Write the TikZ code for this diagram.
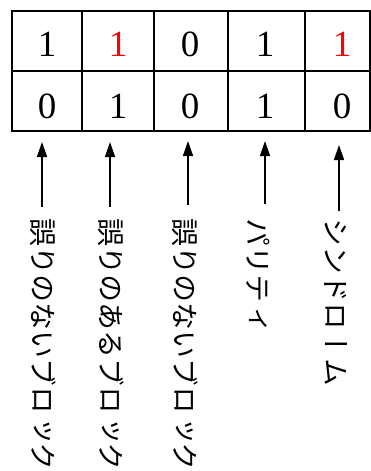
\documentclass[tikz,border=0pt]{standalone}
\usepackage{fontspec}
\newfontfamily\jpv[Vertical=RotatedGlyphs]{Noto Sans CJK JP}
\newfontfamily\digitfont{Liberation Serif}
\usetikzlibrary{arrows.meta}
\begin{document}
\begin{tikzpicture}[x=1pt,y=-1pt,
  grid/.style={line width=1.6pt},
  digit/.style={inner sep=0pt,font=\digitfont\fontsize{37}{40}\selectfont},
  arr/.style={line width=1.5pt,-{Triangle[width=10pt,length=15pt]}},
  vlabel/.style={rotate=-90,anchor=west,inner sep=0pt,font=\jpv\fontsize{28}{30}\selectfont}]
\useasboundingbox (0,0) rectangle (371,471);
\fill[white] (0,0) rectangle (371,471);
% table
\draw[grid] (12,11) rectangle (370,131);
\draw[grid] (12,71) -- (370,71);
\foreach \x in {82,154,228,305} \draw[grid] (\x,11) -- (\x,131);
% digits
\node[digit] (r1c1) at (47,44) {1};
\node[digit,text=red] (r1c2) at (118,44) {1};
\node[digit] (r1c3) at (190,44) {0};
\node[digit] (r1c4) at (265,44) {1};
\node[digit,text=red] (r1c5) at (342,44) {1};
\node[digit] (r2c1) at (47,106) {0};
\node[digit] (r2c2) at (118,106) {1};
\node[digit] (r2c3) at (190,106) {0};
\node[digit] (r2c4) at (265,106) {1};
\node[digit] (r2c5) at (342,106) {0};
% labels
\node[vlabel] (l1) at (43,218) {誤りのないブロック};
\node[vlabel] (l2) at (111,218) {誤りのあるブロック};
\node[vlabel] (l3) at (185,218) {誤りのないブロック};
\node[vlabel] (l4) at (258,218) {パリティ};
\node[vlabel] (l5) at (336,218) {シンドローム};
% arrows
\coordinate (a1s) at (42,207);  \coordinate (a1e) at (42,142);
\coordinate (a2s) at (110,207); \coordinate (a2e) at (110,142);
\coordinate (a3s) at (188,205); \coordinate (a3e) at (188,141);
\coordinate (a4s) at (265,204); \coordinate (a4e) at (265,141);
\coordinate (a5s) at (339,211); \coordinate (a5e) at (339,145);
\draw[arr] (a1s) -- (a1e);
\draw[arr] (a2s) -- (a2e);
\draw[arr] (a3s) -- (a3e);
\draw[arr] (a4s) -- (a4e);
\draw[arr] (a5s) -- (a5e);
\end{tikzpicture}
\end{document}
